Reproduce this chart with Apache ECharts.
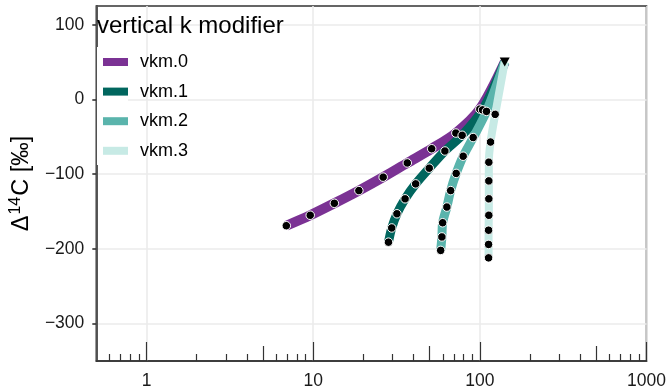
<!DOCTYPE html>
<html>
<head>
<meta charset="utf-8">
<script src="https://cdn.jsdelivr.net/npm/echarts@6/dist/echarts.min.js"></script>
<style>
  html, body { margin: 0; padding: 0; background: #fff; }
  #chart { width: 669px; height: 391px; }
</style>
</head>
<body>
<div id="chart"></div>
<script>
// values
const seriesNames = ['vkm.0', 'vkm.1', 'vkm.2', 'vkm.3'];
const seriesColors = ['#7b3294', '#01665e', '#5ab4ac', '#c7eae5'];

const vkm0X = [6.9, 9.6, 13.4, 18.8, 26.3, 36.7, 51.4, 71.8, 100];
const vkm0Y = [-169, -155, -139, -122, -104, -85, -66, -45, -13];
const vkm1X = [28.3, 29.6, 31.8, 35.6, 41.2, 49.7, 61.7, 78.3, 103.8];
const vkm1Y = [-191, -172, -153, -133, -113, -92, -69, -48, -14];
const vkm2X = [58.2, 59.2, 59.8, 63.4, 66.8, 72.1, 79.4, 91.2, 109.6];
const vkm2Y = [-202, -184, -165, -144, -122, -99, -76, -51, -16];
const vkm3X = [112.8, 112.8, 112.8, 113.2, 113.2, 113.2, 113.2, 115.9, 123.6];
const vkm3Y = [-212, -194, -175, -155, -133, -109, -84, -57, -20];

const sourceX = 141;
const sourceY = 50;

const xLabelTicks = [1, 10, 100, 1000];
const xMajorTicks = [1, 10, 100, 1000];
const xMidTicks = [5, 50, 500];
const xMinorTicks = [0.6, 0.7, 0.8, 0.9, 2, 3, 4, 6, 7, 8, 9,
  20, 30, 40, 60, 70, 80, 90, 200, 300, 400, 600, 700, 800, 900];
const yLabelTicks = [-300, -200, -100, 0, 100];

const allX = [vkm0X, vkm1X, vkm2X, vkm3X];
const allY = [vkm0Y, vkm1Y, vkm2Y, vkm3Y];

const font = '"Liberation Sans", Arial, sans-serif';
const ink = '#333';
const gridColor = '#ebebeb';

function pairs(xs, ys) {
  return xs.map((x, i) => [x, ys[i]]);
}

function tickAxis(values, len) {
  return {
    type: 'log', logBase: 10, min: 0.5, max: 1000, position: 'bottom',
    axisLine: { show: false, onZero: false },
    axisLabel: { show: false },
    splitLine: { show: false },
    axisTick: { show: true, inside: true, length: len, customValues: values,
      lineStyle: { color: ink, width: 1.2 } }
  };
}

const lineSeries = seriesNames.map((name, i) => ({
  name,
  type: 'line',
  xAxisIndex: 0,
  data: pairs(allX[i], allY[i]).concat([[sourceX, sourceY]]),
  showSymbol: false,
  smooth: 0.3,
  silent: true,
  z: 2 + i * 0.01,
  itemStyle: { color: seriesColors[i] },
  lineStyle: { color: seriesColors[i], width: [10, 9, 9, 8][i] }
}));

const pointSeries = seriesNames.map((name, i) => ({
  name: name + ' obs',
  type: 'scatter',
  data: pairs(allX[i], allY[i]),
  symbol: 'circle',
  symbolSize: 8.5,
  z: 5,
  itemStyle: { color: '#000', borderColor: '#fff', borderWidth: 1, opacity: 1 }
}));

const chart = echarts.init(document.getElementById('chart'));
chart.setOption({
  animation: false,
  textStyle: { fontFamily: font },
  title: {
    text: 'vertical k modifier',
    left: 97, top: 14, padding: 0,
    textStyle: { fontFamily: font, fontSize: 24, fontWeight: 'normal', color: '#000' }
  },
  legend: {
    data: seriesNames,
    orient: 'vertical',
    left: 103, top: 52, padding: 0,
    icon: 'rect',
    itemWidth: 25, itemHeight: 8, itemGap: 9.6,
    textStyle: { fontFamily: font, fontSize: 18, lineHeight: 20, color: '#000', padding: [0, 0, 0, 7] }
  },
  graphic: [{
    type: 'rect', z: 1, silent: true,
    shape: { x: 97, y: 47, width: 31, height: 118 },
    style: { fill: '#fff' }
  }],
  grid: {
    left: 96, right: 21, top: 6, bottom: 30,
    show: true, borderColor: ink, borderWidth: 1.6
  },
  xAxis: [
    {
      type: 'log', logBase: 10, min: 0.5, max: 1000, position: 'bottom',
      axisLine: { show: true, onZero: false, lineStyle: { color: ink, width: 1.6 } },
      axisTick: { show: false },
      axisLabel: { customValues: xLabelTicks, fontSize: 17.5, color: '#1a1a1a', margin: 11, fontFamily: font,
        formatter: v => String(v) },
      splitLine: { show: true, lineStyle: { color: gridColor, width: 1.6 } }
    },
    tickAxis(xMajorTicks, 19),
    tickAxis(xMidTicks, 15),
    tickAxis(xMinorTicks, 7)
  ],
  yAxis: {
    type: 'value', min: -350, max: 125, interval: 50,
    axisLine: { show: true, onZero: false, lineStyle: { color: ink, width: 1.6 } },
    axisTick: { show: true, length: 4, customValues: yLabelTicks, lineStyle: { color: ink, width: 1.6 } },
    axisLabel: { customValues: yLabelTicks, fontSize: 17.5, color: '#1a1a1a', margin: 12, fontFamily: font,
      formatter: v => String(v).replace('-', '\u2212') },
    splitLine: { show: true, lineStyle: { color: gridColor, width: 1.6 } },
    name: '{a|Δ}{s|14}{a|C [‰]}',
    nameLocation: 'middle',
    nameGap: 57,
    nameRotate: 90,
    nameTextStyle: {
      rich: {
        a: { fontFamily: font, fontSize: 23.5, color: '#000', lineHeight: 28 },
        s: { fontFamily: font, fontSize: 16, color: '#000', verticalAlign: 'top', lineHeight: 28, padding: [0, 1, 8, 1] }
      }
    }
  },
  series: lineSeries.concat(pointSeries, [{
    name: 'source',
    type: 'scatter',
    data: [[sourceX, sourceY]],
    symbol: 'triangle',
    symbolRotate: 180,
    symbolSize: [10, 9],
    z: 6,
    itemStyle: { color: '#000', opacity: 1 }
  }])
});
</script>
</body>
</html>
